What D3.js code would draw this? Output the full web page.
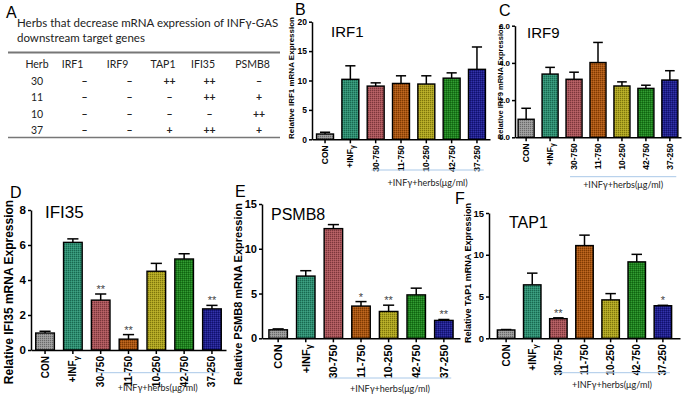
<!DOCTYPE html>
<html>
<head>
<meta charset="utf-8">
<script src="https://cdn.jsdelivr.net/npm/d3@7"></script>
<style>
  body { margin: 0; background: #fff; }
  svg { display: block; }
</style>
</head>
<body>
<div id="chart"></div>
<script>
// Bar categories (same in every panel)
var categories = ["CON", "+INFγ", "30-750", "11-750", "10-250", "42-750", "37-250"];
var barColors = ["#979797", "#2a9071", "#ab5257", "#ad540c", "#afa51a", "#1b851b", "#1c1c92"];

// Panel B - IRF1
var irf1Mean = [0.9, 10.2, 9.05, 9.5, 9.4, 10.4, 11.9];
var irf1Top = [1.2, 12.5, 9.6, 10.8, 10.8, 11.3, 15.7];
var irf1Stars = ["", "", "", "", "", "", ""];

// Panel C - IRF9
var irf9Mean = [0.97, 3.4, 3.12, 4.02, 2.76, 2.63, 3.08];
var irf9Top = [1.56, 3.76, 3.5, 5.1, 2.98, 2.8, 3.58];
var irf9Stars = ["", "", "", "", "", "", ""];

// Panel D - IFI35
var ifi35Mean = [0.97, 6.15, 2.85, 0.62, 4.5, 5.2, 2.35];
var ifi35Top = [1.07, 6.35, 3.2, 0.88, 4.95, 5.5, 2.55];
var ifi35Stars = ["", "", "**", "**", "", "", "**"];

// Panel E - PSMB8
var psmb8Mean = [0.95, 6.95, 12.25, 3.6, 3.0, 4.85, 2.0];
var psmb8Top = [1.05, 7.55, 12.7, 4.1, 3.7, 5.6, 2.1];
var psmb8Stars = ["", "", "", "*", "**", "", "**"];

// Panel F - TAP1
var tap1Mean = [1.0, 6.4, 2.35, 11.1, 4.6, 9.15, 3.9];
var tap1Top = [1.05, 7.8, 2.45, 12.35, 5.35, 10.05, 3.95];
var tap1Stars = ["", "", "**", "", "", "", "*"];

// Panel A - table
var tableTitle = ["Herbs that decrease mRNA expression of INFγ-GAS", "downstream target genes"];
var tableGenes = ["IRF1", "IRF9", "TAP1", "IFI35", "PSMB8"];
var tableHerbs = ["30", "11", "10", "37"];
var tableMarks = [
    ["–", "–", "++", "++", "–"],
    ["–", "–", "–", "++", "+"],
    ["–", "–", "–", "–", "++"],
    ["–", "–", "+", "++", "+"]
];
var groupLabel = "+INFγ+herbs(μg/ml)";

function init() {
    var w = 685, h = 394;

    var svg = d3.select("#chart")
        .append("svg")
        .attr("width", w)
        .attr("height", h);

    // Checkered fill patterns for the bars
    var defs = svg.append("defs");
    barColors.forEach(function (c, i) {
        var p = defs.append("pattern")
            .attr("id", "pat" + i)
            .attr("patternUnits", "userSpaceOnUse")
            .attr("width", 2)
            .attr("height", 2);
        p.append("rect").attr("width", 2).attr("height", 2).attr("fill", c);
        p.append("rect").attr("width", 1).attr("height", 1).attr("fill", "#000").attr("opacity", 0.3);
        p.append("rect").attr("x", 1).attr("y", 1).attr("width", 1).attr("height", 1).attr("fill", "#fff").attr("opacity", 0.12);
    });

    drawTable(svg);

    var panels = [
        { letter: "B", lx: 295, ly: 15, title: "IRF1", tx: 331, ty: 37, tfont: 15,
          mean: irf1Mean, top: irf1Top, stars: irf1Stars, yMax: 20, yStep: 5,
          left: 312, right: 490, bottom: 139.3, topPx: 21.7, outer: 0.18,
          tickFont: 8.5, xFont: 8.5, ylab: "Relative IRF1 mRNA Expression", ylx: 291, yly: 78, ylFont: 8,
          lineY: 170, textY: 186 },
        { letter: "C", lx: 499, ly: 16, title: "IRF9", tx: 527, ty: 38, tfont: 15,
          mean: irf9Mean, top: irf9Top, stars: irf9Stars, yMax: 6, yStep: 2,
          left: 515, right: 681, bottom: 137.3, topPx: 25.7, outer: 0.13,
          tickFont: 8, xFont: 8.5, ylab: "Relative IRF9 mRNA Expression", ylx: 500, yly: 82, ylFont: 7.5,
          lineY: 176.7, textY: 188 },
        { letter: "D", lx: 10, ly: 198, title: "IFI35", tx: 45, ty: 218, tfont: 17,
          mean: ifi35Mean, top: ifi35Top, stars: ifi35Stars, yMax: 8, yStep: 2,
          left: 31, right: 226, bottom: 350, topPx: 210, outer: 0.17,
          tickFont: 11.5, xFont: 10, ylab: "Relative IFI35 mRNA Expression", ylx: 9, yly: 292, ylFont: 12,
          lineY: 372.7, textY: 391 },
        { letter: "E", lx: 235, ly: 197, title: "PSMB8", tx: 271, ty: 220, tfont: 16,
          mean: psmb8Mean, top: psmb8Top, stars: psmb8Stars, yMax: 15, yStep: 5,
          left: 262, right: 460, bottom: 338.3, topPx: 204, outer: 0.25,
          tickFont: 11, xFont: 11, ylab: "Relative PSMB8 mRNA Expression", ylx: 238, yly: 294, ylFont: 11,
          lineY: 378, textY: 392 },
        { letter: "F", lx: 455, ly: 204, title: "TAP1", tx: 509, ty: 228, tfont: 16,
          mean: tap1Mean, top: tap1Top, stars: tap1Stars, yMax: 15, yStep: 5,
          left: 489, right: 680, bottom: 338.3, topPx: 213, outer: 0.32,
          tickFont: 9.5, xFont: 10, ylab: "Relative TAP1 mRNA Expression", ylx: 468, yly: 273, ylFont: 9,
          lineY: 372.7, textY: 388 }
    ];

    panels.forEach(function (p) { drawPanel(svg, p); });
}

function drawTable(svg) {
    var g = svg.append("g").style("font-family", "Lato, 'Open Sans', sans-serif");
    var colX = [37, 84.5, 129.5, 169.5, 209.5, 259];
    var headX = [37, 72.5, 117.5, 163, 203, 252.5];
    var rowY = [85, 101, 118, 134];

    svg.append("text").attr("x", 6).attr("y", 18)
        .style("font-family", "'Liberation Sans', Arial, sans-serif")
        .style("font-size", "16px").text("A");

    g.selectAll("text.title")
        .data(tableTitle)
        .enter().append("text")
        .attr("x", 17)
        .attr("y", function (d, i) { return 27 + i * 14.5; })
        .style("font-size", "11.5px")
        .attr("fill", "#222")
        .text(function (d) { return d; });

    g.append("line").attr("x1", 8).attr("x2", 280).attr("y1", 52.5).attr("y2", 52.5)
        .attr("stroke", "#777").attr("stroke-width", 2);
    g.append("line").attr("x1", 8).attr("x2", 280).attr("y1", 137.5).attr("y2", 137.5)
        .attr("stroke", "#777").attr("stroke-width", 1.5);

    var header = ["Herb"].concat(tableGenes);
    g.selectAll("text.head")
        .data(header)
        .enter().append("text")
        .attr("x", function (d, i) { return headX[i]; })
        .attr("y", 68)
        .attr("text-anchor", "middle")
        .style("font-size", "10.5px")
        .attr("fill", "#222")
        .text(function (d) { return d; });

    tableHerbs.forEach(function (herb, r) {
        g.append("text")
            .attr("x", colX[0]).attr("y", rowY[r])
            .attr("text-anchor", "middle")
            .style("font-size", "10.5px")
            .attr("fill", "#222")
            .text(herb);
        tableMarks[r].forEach(function (m, c) {
            g.append("text")
                .attr("x", colX[c + 1]).attr("y", rowY[r])
                .attr("text-anchor", "middle")
                .style("font-size", "10.5px")
                .style("font-weight", "bold")
                .attr("fill", "#222")
                .text(m);
        });
    });
}

function drawPanel(svg, p) {
    var x = d3.scaleBand()
        .domain(categories)
        .range([p.left, p.right])
        .paddingInner(0.33)
        .paddingOuter(p.outer);

    var y = d3.scaleLinear()
        .domain([0, p.yMax])
        .range([p.bottom, p.topPx]);

    var g = svg.append("g");
    var bw = x.bandwidth();
    var font = "'Liberation Sans', Arial, sans-serif";

    // Panel letter and title
    svg.append("text").attr("x", p.lx).attr("y", p.ly)
        .style("font-family", font).style("font-size", "16px").text(p.letter);
    svg.append("text").attr("x", p.tx).attr("y", p.ty)
        .style("font-family", font).style("font-size", p.tfont + "px").text(p.title);

    // Error bars (upper only)
    g.selectAll("line.err")
        .data(p.top)
        .enter().append("line")
        .attr("class", "err")
        .attr("x1", function (d, i) { return x(categories[i]) + bw / 2; })
        .attr("x2", function (d, i) { return x(categories[i]) + bw / 2; })
        .attr("y1", function (d, i) { return y(p.mean[i]); })
        .attr("y2", function (d) { return y(d); })
        .attr("stroke", "#000").attr("stroke-width", 1.5);
    g.selectAll("line.cap")
        .data(p.top)
        .enter().append("line")
        .attr("class", "cap")
        .attr("x1", function (d, i) { return x(categories[i]) + bw * 0.2; })
        .attr("x2", function (d, i) { return x(categories[i]) + bw * 0.8; })
        .attr("y1", function (d) { return y(d); })
        .attr("y2", function (d) { return y(d); })
        .attr("stroke", "#000").attr("stroke-width", 1.5);

    // Bars
    g.selectAll("rect.bar")
        .data(p.mean)
        .enter().append("rect")
        .attr("class", "bar")
        .attr("x", function (d, i) { return x(categories[i]); })
        .attr("y", function (d) { return y(d); })
        .attr("width", bw)
        .attr("height", function (d) { return y(0) - y(d); })
        .attr("fill", function (d, i) { return "url(#pat" + i + ")"; })
        .attr("stroke", "#000")
        .attr("stroke-width", 1.4);

    // Significance stars
    g.selectAll("text.star")
        .data(p.stars)
        .enter().append("text")
        .attr("class", "star")
        .attr("x", function (d, i) { return x(categories[i]) + bw / 2; })
        .attr("y", function (d, i) { return y(p.top[i]) - 1; })
        .attr("text-anchor", "middle")
        .style("font-family", font)
        .style("font-size", "11px")
        .attr("fill", "#444")
        .text(function (d) { return d; });

    // Y axis
    var yAxis = g.append("g")
        .attr("transform", "translate(" + p.left + ",0)")
        .call(d3.axisLeft(y)
            .tickValues(d3.range(0, p.yMax + 0.001, p.yStep))
            .tickSize(3)
            .tickPadding(2)
            .tickSizeOuter(0));
    yAxis.selectAll(".tick text")
        .attr("fill", "#000")
        .style("font-family", font)
        .style("font-size", p.tickFont + "px")
        .style("font-weight", "bold");

    // X axis
    var xAxis = g.append("g")
        .attr("transform", "translate(0," + p.bottom + ")")
        .call(d3.axisBottom(x).tickSize(4).tickSizeOuter(0));
    xAxis.selectAll(".tick text")
        .attr("transform", "rotate(-90)")
        .attr("text-anchor", "end")
        .attr("x", -6)
        .attr("y", 0)
        .attr("dy", "0.35em")
        .attr("fill", "#000")
        .style("font-family", font)
        .style("font-size", p.xFont + "px")
        .style("font-weight", "bold")
        .each(function (d) {
            if (d === "+INFγ") {
                var t = d3.select(this).text("");
                t.append("tspan").text("+INF");
                t.append("tspan").attr("dy", "0.3em").style("font-size", (p.xFont * 0.8) + "px").text("γ");
            }
        });

    [yAxis, xAxis].forEach(function (a) {
        a.selectAll("path, line").attr("stroke", "#000").attr("stroke-width", 1.5);
    });

    // Y axis label
    svg.append("text")
        .attr("transform", "translate(" + p.ylx + "," + p.yly + ") rotate(-90)")
        .attr("text-anchor", "middle")
        .attr("dy", "0.35em")
        .style("font-family", font)
        .style("font-size", p.ylFont + "px")
        .style("font-weight", "bold")
        .text(p.ylab);

    // Herb group bracket and label
    var gx1 = x(categories[2]) + bw * 0.25;
    var gx2 = x(categories[6]) + bw * 0.9;
    svg.append("line")
        .attr("x1", gx1).attr("x2", gx2)
        .attr("y1", p.lineY).attr("y2", p.lineY)
        .attr("stroke", "#a9c8e8").attr("stroke-width", 1);
    svg.append("text")
        .attr("x", (gx1 + gx2) / 2)
        .attr("y", p.textY)
        .attr("text-anchor", "middle")
        .style("font-family", "Lato, 'Open Sans', sans-serif")
        .style("font-size", "9px")
        .attr("fill", "#222")
        .text(groupLabel);
}

window.onload = init;
</script>
</body>
</html>
